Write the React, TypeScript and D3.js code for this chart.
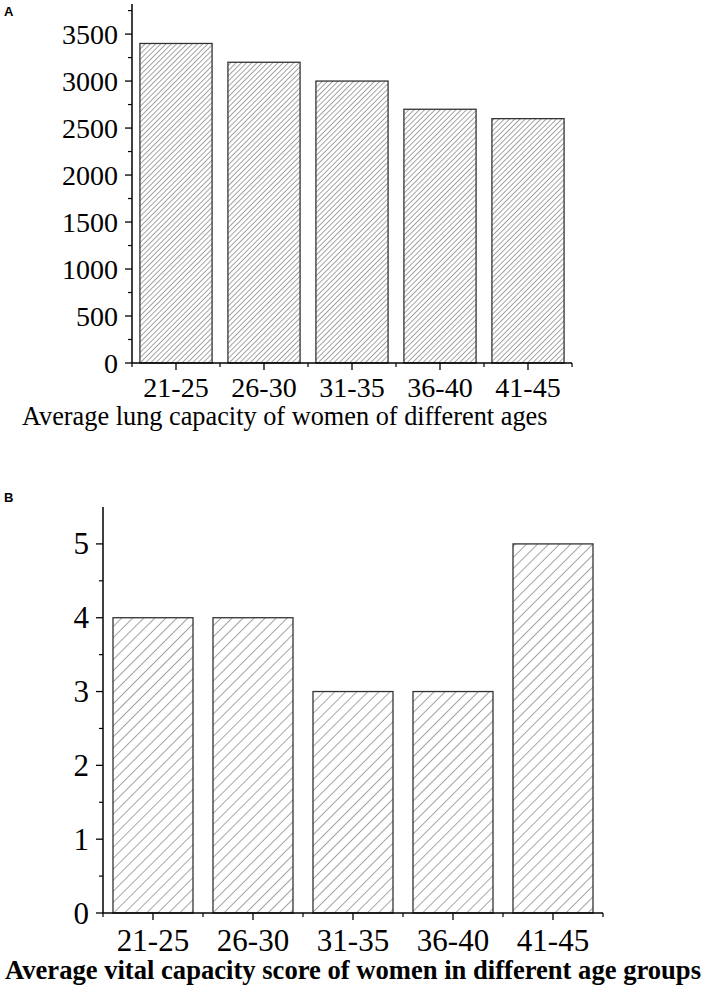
import React from 'react';
import * as d3 from 'd3';

const ageGroups = ['21-25', '26-30', '31-35', '36-40', '41-45'];
const lungCapacity = [3400, 3200, 3000, 2700, 2600];
const capacityScore = [4, 4, 3, 3, 5];
const lungTicks = [0, 500, 1000, 1500, 2000, 2500, 3000, 3500];
const scoreTicks = [0, 1, 2, 3, 4, 5];

const width = 708;
const height = 998;
const serif = '"Liberation Serif", "Times New Roman", serif';

type PanelProps = {
  letter: string;
  letterY: number;
  values: number[];
  ticks: number[];
  yMax: number;
  x0: number;
  x1: number;
  yTop: number;
  yBottom: number;
  pad: number;
  hatchId: string;
  hatchGap: number;
  tickSize: number;
  labelY: number;
  title: string;
  titleX: number;
  titleY: number;
  titleSize: number;
  titleBold?: boolean;
};

const Panel = (p: PanelProps) => {
  const x = d3.scaleBand<string>().domain(ageGroups).range([p.x0, p.x1])
    .paddingInner(p.pad).paddingOuter(p.pad / 2);
  const y = d3.scaleLinear().domain([0, p.yMax]).range([p.yBottom, p.yTop]);
  const step = p.ticks[1] - p.ticks[0];
  const minor = p.ticks.map(t => t + step / 2).filter(t => t < p.yMax);
  const bounds = d3.range(ageGroups.length + 1).map(i => p.x0 + i * x.step());

  return (
    <g>
      <defs>
        <pattern id={p.hatchId} patternUnits="userSpaceOnUse" width={p.hatchGap} height={p.hatchGap}
          patternTransform="rotate(45)">
          <line x1={0} y1={0} x2={0} y2={p.hatchGap} stroke="#4a4a4a" strokeWidth={1} />
        </pattern>
      </defs>
      <text x={4} y={p.letterY} fontFamily='"Liberation Sans", Arial, sans-serif' fontWeight="bold" fontSize={13}>{p.letter}</text>

      {p.values.map((v, i) => (
        <rect key={i} x={x(ageGroups[i])} y={y(v)} width={x.bandwidth()} height={y(0) - y(v)}
          fill={`url(#${p.hatchId})`} stroke="#333" strokeWidth={1.3} />
      ))}

      {/* y axis */}
      <line x1={p.x0} x2={p.x0} y1={p.yTop} y2={p.yBottom} stroke="#000" strokeWidth={1.5} />
      {p.ticks.map(t => (
        <g key={t}>
          <line x1={p.x0 - 7} x2={p.x0} y1={y(t)} y2={y(t)} stroke="#000" strokeWidth={1.3} />
          <text x={p.x0 - 14} y={y(t)} dy="0.34em" textAnchor="end" fontFamily={serif} fontSize={p.tickSize}>{t}</text>
        </g>
      ))}
      {minor.map(t => (
        <line key={t} x1={p.x0 - 4} x2={p.x0} y1={y(t)} y2={y(t)} stroke="#000" strokeWidth={1.2} />
      ))}

      {/* x axis */}
      <line x1={p.x0} x2={p.x1} y1={p.yBottom} y2={p.yBottom} stroke="#000" strokeWidth={1.5} />
      {ageGroups.map(g => {
        const cx = (x(g) as number) + x.bandwidth() / 2;
        return (
          <g key={g}>
            <line x1={cx} x2={cx} y1={p.yBottom} y2={p.yBottom + 7} stroke="#000" strokeWidth={1.3} />
            <text x={cx} y={p.labelY} textAnchor="middle" fontFamily={serif} fontSize={p.tickSize}>{g}</text>
          </g>
        );
      })}
      {bounds.map((b, i) => (
        <line key={i} x1={b} x2={b} y1={p.yBottom} y2={p.yBottom + 4} stroke="#000" strokeWidth={1.2} />
      ))}

      <text x={p.titleX} y={p.titleY} fontFamily={serif} fontSize={p.titleSize}
        fontWeight={p.titleBold ? 'bold' : 'normal'}>{p.title}</text>
    </g>
  );
};

const App = () => {
  return (
    <svg width={width} height={height} style={{ position: 'absolute', left: 0, top: 0, background: '#fff' }}>
      <rect width={width} height={height} fill="#fff" />
      <Panel letter="A" letterY={16} values={lungCapacity} ticks={lungTicks} yMax={3820}
        x0={132} x1={572} yTop={4} yBottom={363} pad={0.18}
        hatchId="hatchA" hatchGap={3.7} tickSize={28} labelY={397}
        title="Average lung capacity of women of different ages" titleX={22} titleY={425} titleSize={26.3} />
      <Panel letter="B" letterY={502} values={capacityScore} ticks={scoreTicks} yMax={5.5}
        x0={103} x1={603} yTop={507} yBottom={913} pad={0.2}
        hatchId="hatchB" hatchGap={7.8} tickSize={31} labelY={951}
        title="Average vital capacity score of women in different age groups" titleX={5} titleY={979}
        titleSize={26.6} titleBold />
    </svg>
  );
};

export default App;
